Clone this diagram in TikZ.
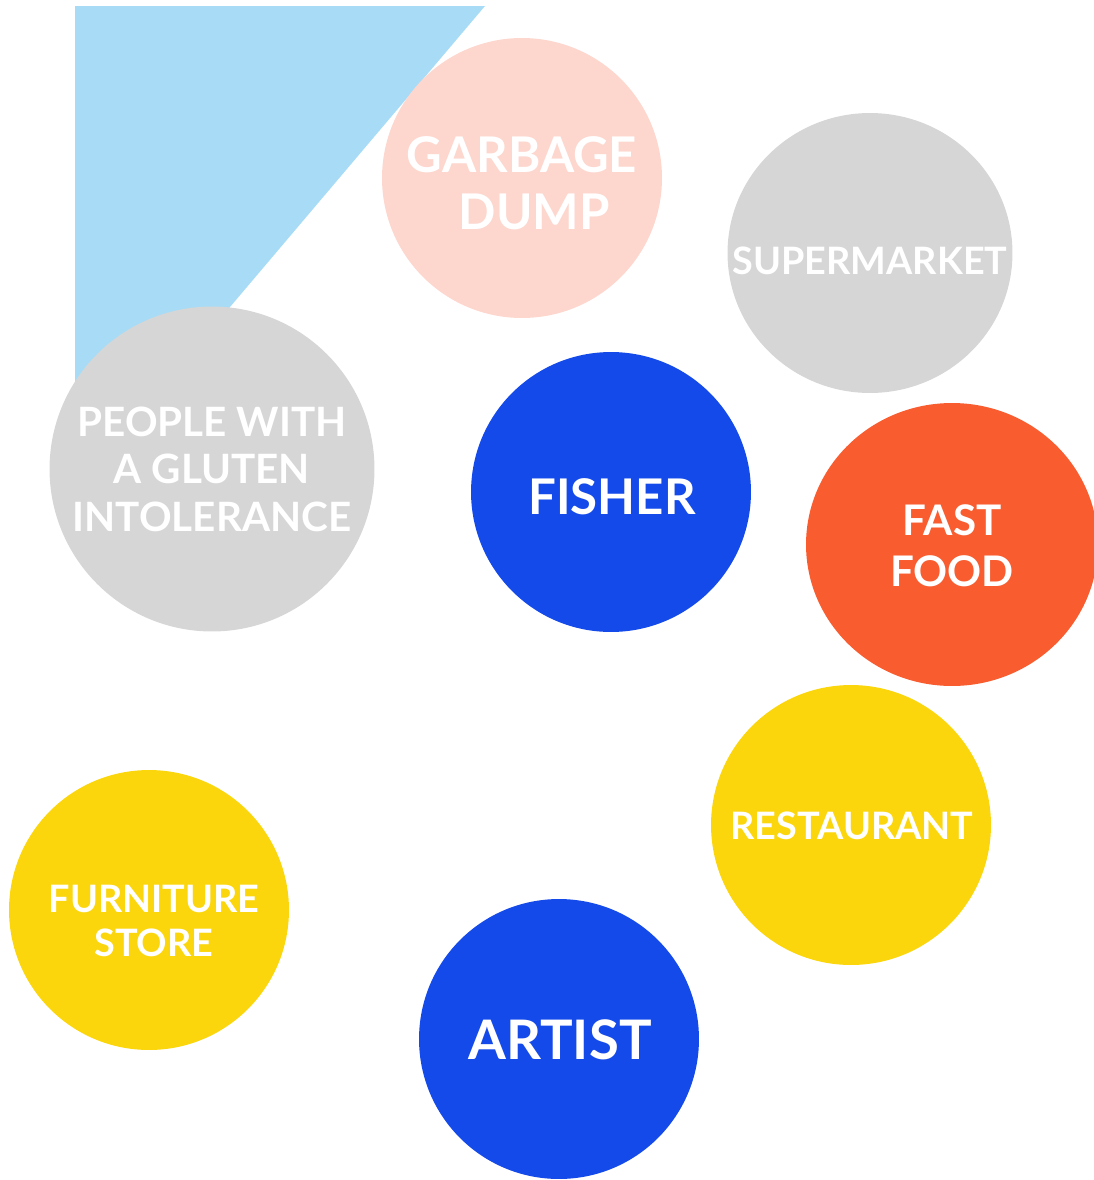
\documentclass[tikz,border=0pt]{standalone}
\usepackage{fontspec}
\setmainfont{Lato}[UprightFont=* Bold]
\usetikzlibrary{shapes.geometric}
\definecolor{skyblue}{HTML}{A8DCF6}
\definecolor{peach}{HTML}{FDD6CD}
\definecolor{lightgray}{HTML}{D6D6D6}
\definecolor{royalblue}{HTML}{144AEA}
\definecolor{tomato}{HTML}{F85C2F}
\definecolor{sunyellow}{HTML}{FBD60C}
\begin{document}
\begin{tikzpicture}[x=0.02cm,y=-0.02cm,
    bubble/.style={circle, inner sep=0pt, minimum size=5.6cm},
    oval/.style={ellipse, inner sep=0pt},
    word/.style={text=white, align=center, inner sep=0pt},
    big/.style={font=\fontsize{28}{32.5}\selectfont},
    mid/.style={font=\fontsize{23}{27}\selectfont},
    small/.style={font=\fontsize{21.5}{25}\selectfont}]
    \useasboundingbox (0,0) rectangle (1094,1180);
    \fill[skyblue] (75,6) -- (485,6) -- (75,490) -- cycle;
    % circles
    \node[bubble, fill=peach] (dump) at (522,178) {};
    \node[oval, fill=lightgray, minimum width=5.7cm, minimum height=5.6cm] (market) at (870,253) {};
    \node[bubble, fill=lightgray, minimum size=6.5cm] (gluten) at (212,469) {};
    \node[bubble, fill=royalblue] (fisher) at (611,492) {};
    \node[oval, fill=tomato, minimum width=5.84cm, minimum height=5.66cm] (fastfood) at (952,544.5) {};
    \node[bubble, fill=sunyellow] (restaurant) at (851,825) {};
    \node[bubble, fill=sunyellow] (furniture) at (149,910) {};
    \node[bubble, fill=royalblue] (artist) at (559,1039) {};
    % texts
    \node[word, big] (dumptext) at ([shift={(0,5)}]dump) {GARBAGE\\\hspace*{0.5em}DUMP};
    \node[word, small] (markettext) at ([shift={(0,8)}]market) {SUPERMARKET};
    \node[word, mid] (glutentext) at (gluten) {PEOPLE WITH\\A GLUTEN\\INTOLERANCE};
    \node[word, big] (fishertext) at ([shift={(1,5)}]fisher) {FISHER};
    \node[word, font=\fontsize{24}{29}\selectfont] (fastfoodtext) at ([shift={(0,1)}]fastfood) {FAST\\FOOD};
    \node[word, small] (restauranttext) at ([shift={(1,1)}]restaurant) {RESTAURANT};
    \node[word, small] (furnituretext) at ([shift={(5,11)}]furniture) {FURNITURE\\STORE};
    \node[word, font=\fontsize{31}{35}\selectfont] (artisttext) at ([shift={(1,1)}]artist) {ARTIST};
\end{tikzpicture}
\end{document}
